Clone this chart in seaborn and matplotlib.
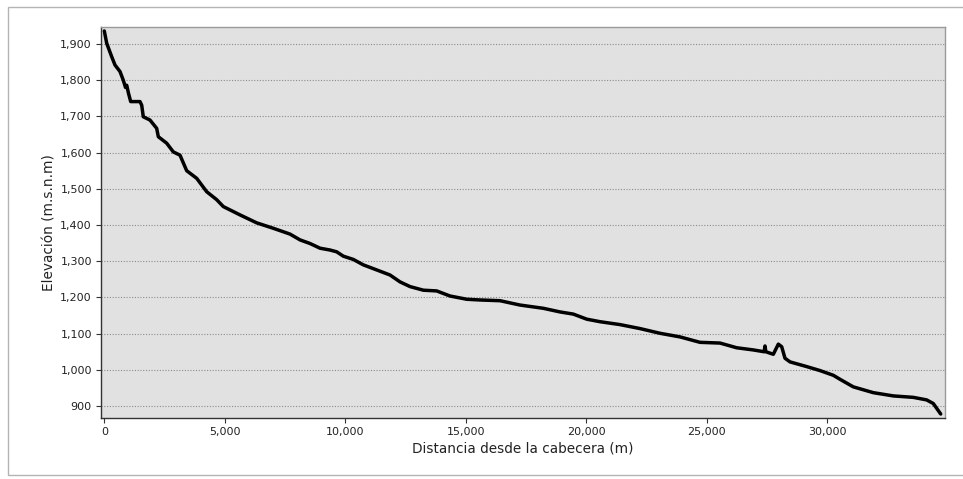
import matplotlib
matplotlib.use("Agg")
import matplotlib.pyplot as plt
import matplotlib.ticker as mticker
from matplotlib.patches import Rectangle
import seaborn as sns
import pandas as pd

distance = [0, 100, 307, 444, 651, 788, 880, 930, 1000, 1095, 1481, 1552, 1618,
            1896, 2174, 2241, 2589, 2863, 3141, 3419, 3834, 4249, 4664, 4938,
            5631, 6324, 7013, 7705, 8120, 8535, 8950, 9365, 9643, 9917, 10332,
            10747, 11302, 11855, 12270, 12685, 13237, 13792, 14344, 15037, 15589,
            16419, 17249, 18216, 18909, 19461, 20017, 20568, 21398, 22228, 23058,
            23888, 24718, 25548, 26240, 26930, 27380, 27415, 27450, 27760, 27968,
            28107, 28245, 28452, 29145, 29697, 30249, 30526, 31079, 31909, 32739,
            33568, 34122, 34398, 34706]
elevation = [1936, 1902, 1865, 1842, 1824, 1800, 1780, 1786, 1765, 1741, 1741, 1731,
             1699, 1690, 1667, 1644, 1626, 1602, 1593, 1550, 1529, 1492, 1470, 1451,
             1428, 1406, 1391, 1375, 1359, 1349, 1336, 1331, 1326, 1314, 1305,
             1290, 1276, 1262, 1243, 1230, 1220, 1218, 1204, 1195, 1193,
             1191, 1179, 1170, 1160, 1154, 1140, 1133, 1125, 1114, 1101,
             1091, 1076, 1074, 1061, 1055, 1050, 1066, 1050, 1043, 1071,
             1064, 1032, 1022, 1009, 998, 985, 974, 953, 937, 928,
             924, 917, 907, 878]

x_ticks = [0, 5000, 10000, 15000, 20000, 25000, 30000]
y_ticks = [900, 1000, 1100, 1200, 1300, 1400, 1500, 1600, 1700, 1800, 1900]
x_label = "Distancia desde la cabecera (m)"
y_label = "Elevación (m.s.n.m)"

sns.set_style("white")
plt.rcParams["font.family"] = ["DejaVu Sans"]

df = pd.DataFrame({"d": distance, "e": elevation})

fig = plt.figure(figsize=(9.63, 4.79), dpi=100)
ax = fig.add_axes([101 / 963, 1 - 418 / 479, (945 - 101) / 963, (418 - 27) / 479])

# outer frame
fig.patches.append(Rectangle((8 / 963, 1 - 475 / 479), 1.2, (475 - 7) / 479,
                             transform=fig.transFigure, fill=False,
                             edgecolor="#b4b4b4", linewidth=1.0))

ax.set_facecolor("#e1e1e1")
sns.lineplot(data=df, x="d", y="e", ax=ax, color="black", linewidth=2.5,
             sort=False, estimator=None)
for ln in ax.lines:
    ln.set_solid_joinstyle("round")

ax.set_xlim(-137, 34884)
ax.set_ylim(867, 1947)
ax.set_xticks(x_ticks)
ax.set_yticks(y_ticks)
ax.xaxis.set_major_formatter(mticker.FuncFormatter(lambda v, p: f"{int(v):,}"))
ax.yaxis.set_major_formatter(mticker.FuncFormatter(lambda v, p: f"{int(v):,}"))
ax.yaxis.grid(True, linestyle=(0, (1, 1.5)), color="#8c8c8c", linewidth=0.8)
ax.xaxis.grid(False)
ax.set_axisbelow(True)

ax.tick_params(axis="both", direction="out", length=3.6, width=0.8,
               colors="#333333", labelsize=8, pad=3, labelcolor="#222222")
ax.tick_params(axis="both", which="both", bottom=True, left=True)

for s in ["top", "right"]:
    ax.spines[s].set_color("#9a9a9a")
    ax.spines[s].set_linewidth(1.0)
for s in ["left", "bottom"]:
    ax.spines[s].set_color("#333333")
    ax.spines[s].set_linewidth(1.0)

ax.set_xlabel(x_label, fontsize=9.8, color="#222222", labelpad=3)
ax.set_ylabel(y_label, fontsize=9.8, color="#222222", labelpad=3)

fig.savefig("out.png", dpi=100)
